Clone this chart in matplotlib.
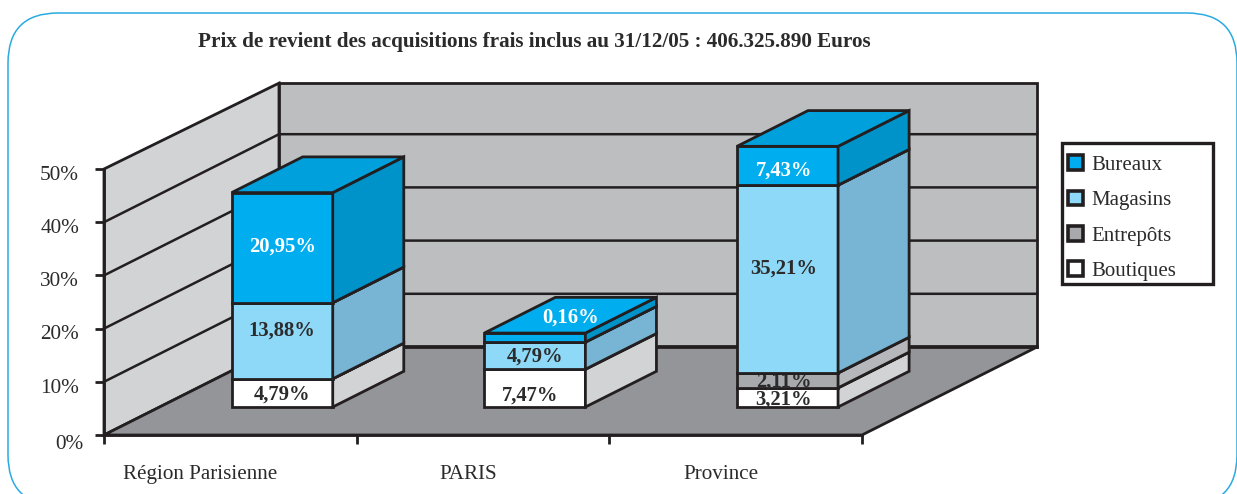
import matplotlib
matplotlib.use("Agg")
import matplotlib.pyplot as plt
from matplotlib.patches import FancyBboxPatch, Patch, Rectangle

plt.rcParams['font.family'] = ['Liberation Serif', 'DejaVu Serif']

TITLE = "Prix de revient des acquisitions frais inclus au 31/12/05 : 406.325.890 Euros"
categories = ["Région Parisienne", "PARIS", "Province"]
series = ["Boutiques", "Entrepôts", "Magasins", "Bureaux"]

# printed values, per series, per category (None = no label)
boutiques = [4.79, 7.47, 3.21]
entrepots = [None, None, 2.11]
magasins = [13.88, 4.79, 35.21]
bureaux = [20.95, 0.16, 7.43]

# heights as drawn on the axis, they do not quite agree with the printed values
h_boutiques = [5.3, 7.1, 3.6]
h_entrepots = [0, 0, 2.8]
h_magasins = [14.3, 5.1, 35.3]
h_bureaux = [20.7, 1.7, 7.3]

INK = "#231F20"
TEXT = "#2B2B2B"
colors = {"Bureaux": ("#00ADEF", "#0093C9", "#00A0DC"),
          "Magasins": ("#8ED8F8", "#78B4D3", "#78B4D3"),
          "Entrepôts": ("#A7A9AC", "#B5B7BA", "#B5B7BA"),
          "Boutiques": ("#FFFFFF", "#D1D3D4", "#FFFFFF")}

fig = plt.figure(figsize=(12.37, 4.94), dpi=100)

# page layer in pixels, for the rounded frame, the title and the legend box
bg = fig.add_axes([0, 0, 1, 1])
bg.set_xlim(0, 1237)
bg.set_ylim(494, 0)
bg.axis('off')
bg.add_patch(FancyBboxPatch((8, 13), 1229, 492, boxstyle="round,pad=0,rounding_size=50",
                            fc='white', ec='#29ABE2', lw=1.1, mutation_aspect=1))
bg.add_patch(Rectangle((1062, 143), 151, 141, fc='white', ec=INK, lw=2.4))
bg.text(534.5, 42, TITLE, ha='center', va='center', fontsize=15.2, fontweight='bold', color=TEXT)

ax = fig.add_axes([104 / 1237, 1 - 435 / 494, 758 / 1237, 266 / 494])
ax.set_xlim(0, 3)
ax.set_ylim(0, 50)
ax.patch.set_visible(False)

# depth of the box in axis units
DX = 175 / (758 / 3)
DY = 88 / (266 / 50)
LW = 2.0
BACK_TOP = 49.6


def proj(x, y, d):
    return x + d * DX, y + d * DY


def face(pts, color, z=2, lw=LW):
    xs, ys = zip(*[proj(*p) for p in pts])
    ax.fill(xs, ys, fc=color, ec=INK, lw=lw, clip_on=False, zorder=z, joinstyle='miter')


# walls and floor
face([(0, 0, 0), (0, 0, 1), (0, BACK_TOP, 1), (0, 50, 0)], "#D1D3D4", z=1)
face([(0, 0, 1), (3, 0, 1), (3, BACK_TOP, 1), (0, BACK_TOP, 1)], "#BCBEC0", z=1)
face([(0, 0, 0), (3, 0, 0), (3, 0, 1), (0, 0, 1)], "#939598", z=1.5)
for level in [10, 20, 30, 40]:
    xs, ys = zip(proj(0, level, 0), proj(0, level, 1), proj(3, level, 1))
    ax.plot(xs, ys, color=INK, lw=LW * 0.9, clip_on=False, zorder=1.2)
xs, ys = zip(proj(0, 0, 1), proj(3, 0, 1))
ax.plot(xs, ys, color=INK, lw=LW * 1.3, clip_on=False, zorder=1.6)

# stacked boxes
BAR_W = 0.4
BAR_X0 = 0.285
D0, D1 = 0.318, 0.724
values = [boutiques, entrepots, magasins, bureaux]
heights = [h_boutiques, h_entrepots, h_magasins, h_bureaux]
# label nudges in axis units (dx, dy), the picture does not centre them
nudge = {(0, 0): (0, -0.3), (0, 2): (0, 1.9), (0, 3): (0, 0.2),
         (1, 0): (-0.02, -1.4), (1, 2): (0, -0.2), (1, 3): (0.14, 3.7),
         (2, 0): (-0.015, -0.4), (2, 1): (-0.015, -0.2), (2, 2): (-0.015, 1.9), (2, 3): (-0.015, -0.9)}

for c in range(len(categories)):
    base = 0.0
    left = c + BAR_X0
    for s, name in enumerate(series):
        h = heights[s][c]
        if h == 0:
            continue
        front, side, top = colors[name]
        right = left + BAR_W
        z = 3 + c + s * 0.1
        face([(left, base, D0), (right, base, D0), (right, base + h, D0), (left, base + h, D0)], front, z)
        face([(right, base, D0), (right, base, D1), (right, base + h, D1), (right, base + h, D0)], side, z)
        is_top = s == len(series) - 1
        top_color = "#00ADEF" if (is_top and c == 1) else top
        face([(left, base + h, D0), (right, base + h, D0), (right, base + h, D1), (left, base + h, D1)], top_color, z)
        if values[s][c] is not None:
            dx, dy = nudge[(c, s)]
            tx, ty = proj(left + BAR_W / 2 + dx, base + h / 2 + dy, D0)
            ax.text(tx, ty, f"{values[s][c]:.2f}".replace('.', ',') + "%", ha='center', va='center',
                    fontsize=14.9, fontweight='bold', clip_on=False, zorder=z + 0.05,
                    color='white' if name == "Bureaux" else TEXT)
        base += h

# axes
for sp in ['top', 'right']:
    ax.spines[sp].set_visible(False)
for sp in ['left', 'bottom']:
    ax.spines[sp].set_linewidth(LW)
    ax.spines[sp].set_color(INK)
    ax.spines[sp].set_zorder(2)
tick_levels = [0, 10, 20, 30, 40, 50]
ax.set_yticks(tick_levels)
ax.set_yticklabels([])
ax.set_xticks([0, 1, 2, 3])
ax.set_xticklabels([])
ax.tick_params(axis='both', length=6.5, width=LW, color=INK)

for v in tick_levels:
    # offsets in points: 0% sits lower and further right than the others
    off = (-15, -7) if v == 0 else (-18, -4.6)
    ax.annotate(f"{v}%", (0, v), xytext=off, textcoords='offset points', ha='right', va='center',
                fontsize=15.3, color=TEXT, annotation_clip=False)

label_x = [200, 468, 721]
for name, x in zip(categories, label_x):
    bg.text(x, 474, name, ha='center', va='center', fontsize=15.2, color=TEXT)

# legend, same order as the picture (top of the stack first), box drawn above
handles = [Patch(fc=colors[n][0], ec=INK, lw=2.6) for n in series[::-1]]
leg = ax.legend(handles, series[::-1], loc='upper left', bbox_to_anchor=(1062 / 1237, 1 - 149 / 494),
                bbox_transform=fig.transFigure, fontsize=15, labelcolor=TEXT, frameon=False,
                handlelength=0.72, handleheight=0.72, handletextpad=0.38,
                labelspacing=0.75, borderpad=0.3, borderaxespad=0)
leg.set_zorder(10)

fig.savefig("out.png", dpi=100)
